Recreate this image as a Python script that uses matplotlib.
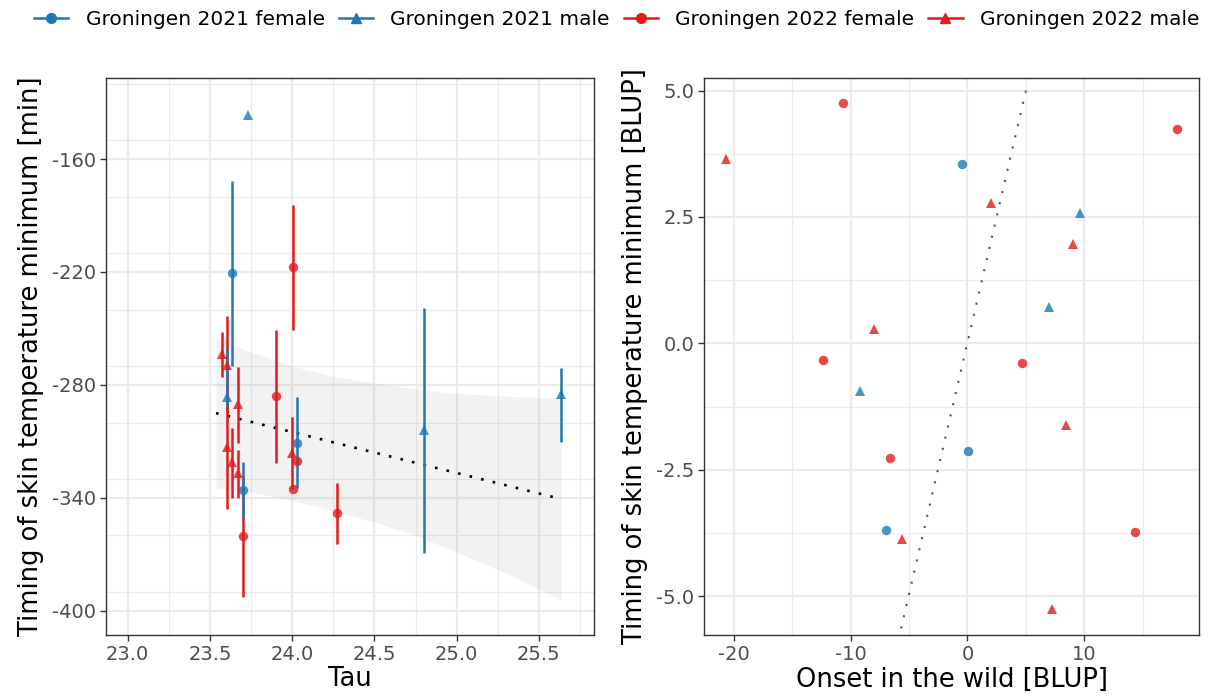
import numpy as np
import matplotlib
matplotlib.use('Agg')
from matplotlib import pyplot as plt
from matplotlib.lines import Line2D
from matplotlib.ticker import MultipleLocator

plt.rcParams['font.family'] = ['DejaVu Sans']
plt.rcParams['axes.unicode_minus'] = False

BLUE = '#1f78b4'
RED = '#e41a1c'

# ---- left panel: tau vs timing of skin temperature minimum ----
tau_f21 = [23.632, 23.702, 24.031]
time_f21 = [-220.6, -335.8, -310.7]
lo_f21 = [-269.7, -350.6, -334.7]
hi_f21 = [-171.6, -321.0, -286.7]

tau_m21 = [23.733, 23.602, 24.803, 25.634]
time_m21 = [-136.4, -286.7, -303.9, -285.0]
lo_m21 = [np.nan, -292.0, -369.5, -310.1]
hi_m21 = [np.nan, -260.5, -238.9, -271.1]

tau_f22 = [23.901, 24.003, 24.003, 24.031, 23.702, 24.270]
time_f22 = [-285.8, -217.4, -335.4, -320.2, -360.3, -348.2]
lo_f22 = [-321.3, -250.8, np.nan, np.nan, -392.6, -364.7]
hi_f22 = [-250.8, -184.3, np.nan, np.nan, -327.8, -332.2]

tau_m22 = [23.571, 23.602, 23.672, 23.602, 23.632, 23.672, 23.997]
time_m22 = [-263.5, -269.4, -290.4, -312.8, -320.8, -327.0, -316.3]
lo_m22 = [-275.9, -295.0, -311.0, -346.1, -340.2, -339.9, -335.4]
hi_m22 = [-252.0, -243.3, -270.3, -280.0, -302.7, -314.5, -297.2]

# fitted line and its confidence band
fit_x = [23.537, 25.634]
fit_y = [-295.0, -340.6]
band_x = [23.537, 23.743, 24.0, 24.25, 24.503, 24.75, 24.959, 25.3, 25.634]
band_hi = [-255.2, -262.3, -270.0, -275.5, -279.1, -282.0, -284.4, -286.0, -287.1]
band_lo = [-334.9, -336.7, -341.5, -347.0, -353.0, -360.0, -367.4, -380.0, -394.3]

# ---- right panel: onset in the wild vs timing BLUPs ----
onset_f21 = [-0.43, 0.05, -6.99]
blup_f21 = [3.55, -2.13, -3.70]
onset_m21 = [9.63, 6.93, -9.21]
blup_m21 = [2.575, 0.71, -0.95]
onset_f22 = [-10.67, 17.93, -12.32, 4.64, -6.65, 14.34]
blup_f22 = [4.75, 4.235, -0.32, -0.39, -2.26, -3.74]
onset_m22 = [-20.65, 2.02, 9.03, -7.99, 8.41, -5.56, 7.21]
blup_m22 = [3.64, 2.78, 1.96, 0.28, -1.62, -3.88, -5.26]

line2_x = [-5.68, 5.10]
line2_y = [-5.64, 5.10]

groups = [
    ('Groningen 2021 female', BLUE, 'o'),
    ('Groningen 2021 male', BLUE, '^'),
    ('Groningen 2022 female', RED, 'o'),
    ('Groningen 2022 male', RED, '^'),
]


def style_axes(ax):
    ax.set_facecolor('white')
    for sp in ax.spines.values():
        sp.set_color('#333333')
        sp.set_linewidth(1.0)
    ax.grid(which='major', color='#ebebeb', linewidth=1.6, zorder=0)
    ax.grid(which='minor', color='#ebebeb', linewidth=0.8, zorder=0)
    ax.set_axisbelow(True)
    ax.tick_params(which='major', length=4, width=1.0, color='#333333',
                   labelcolor='#4d4d4d', labelsize=14, pad=3)
    ax.tick_params(which='minor', length=0)


fig = plt.figure(figsize=(12.14, 7.0), dpi=100)
ax1 = fig.add_axes([0.0873, 0.0929, 0.402, 0.7957])
ax2 = fig.add_axes([0.580, 0.0929, 0.4077, 0.7957])

# left
style_axes(ax1)
ax1.fill_between(band_x, band_lo, band_hi, color='grey', alpha=0.1,
                 linewidth=0, zorder=1)
ax1.plot(fit_x, fit_y, color='black', linestyle=(0, (1, 3.5)), linewidth=1.9,
         zorder=2)

left_data = [
    (tau_f21, time_f21, lo_f21, hi_f21),
    (tau_m21, time_m21, lo_m21, hi_m21),
    (tau_f22, time_f22, lo_f22, hi_f22),
    (tau_m22, time_m22, lo_m22, hi_m22),
]
# red first so the blue bars sit on top
for idx in [2, 3, 0, 1]:
    x, y, lo, hi = left_data[idx]
    _, col, mk = groups[idx]
    ax1.vlines(x, lo, hi, color=col, linewidth=1.8, zorder=3)
for idx in [2, 3, 0, 1]:
    x, y, lo, hi = left_data[idx]
    _, col, mk = groups[idx]
    ax1.plot(x, y, linestyle='none', marker=mk, color=col, alpha=0.8,
             markersize=7.5 if mk == '^' else 6.8, markeredgewidth=0, zorder=4)

ax1.set_xlim(22.868, 25.835)
ax1.set_ylim(-412.9, -116.9)
ax1.xaxis.set_major_locator(MultipleLocator(0.5))
ax1.xaxis.set_minor_locator(MultipleLocator(0.25))
ax1.yaxis.set_major_locator(MultipleLocator(60))
ax1.yaxis.set_minor_locator(MultipleLocator(30))
ax1.set_yticks([-400, -340, -280, -220, -160])
ax1.xaxis.set_major_formatter(matplotlib.ticker.FormatStrFormatter('%.1f'))
ax1.set_xlabel('Tau', fontsize=18.5, labelpad=2)
ax1.set_ylabel('Timing of skin temperature minimum [min]', fontsize=18.5,
               labelpad=6)

# right
style_axes(ax2)
ax2.plot(line2_x, line2_y, color='#555555', linestyle=(0, (1, 4.5)),
         linewidth=1.5, zorder=2)
right_data = [
    (onset_f21, blup_f21),
    (onset_m21, blup_m21),
    (onset_f22, blup_f22),
    (onset_m22, blup_m22),
]
for (x, y), (_, col, mk) in zip(right_data, groups):
    ax2.plot(x, y, linestyle='none', marker=mk, color=col, alpha=0.8,
             markersize=7.5 if mk == '^' else 6.8, markeredgewidth=0, zorder=4)

ax2.set_xlim(-22.53, 19.81)
ax2.set_ylim(-5.77, 5.25)
ax2.xaxis.set_major_locator(MultipleLocator(10))
ax2.xaxis.set_minor_locator(MultipleLocator(5))
ax2.yaxis.set_major_locator(MultipleLocator(2.5))
ax2.yaxis.set_minor_locator(MultipleLocator(1.25))
ax2.yaxis.set_major_formatter(matplotlib.ticker.FormatStrFormatter('%.1f'))
ax2.set_xlabel('Onset in the wild [BLUP]', fontsize=18.5, labelpad=2)
ax2.set_ylabel('Timing of skin temperature minimum [BLUP]', fontsize=18.5,
               labelpad=6)

# shared legend on top
handles = [Line2D([0], [0], color=col, marker=mk, markersize=7, linewidth=1.8)
           for _, col, mk in groups]
labels = [g[0] for g in groups]
fig.legend(handles, labels, loc='center', bbox_to_anchor=(0.508, 0.972),
           ncol=4, frameon=False, fontsize=14.5, handlelength=1.7,
           handletextpad=0.85, columnspacing=0.7)

fig.savefig('out.png', dpi=100)
